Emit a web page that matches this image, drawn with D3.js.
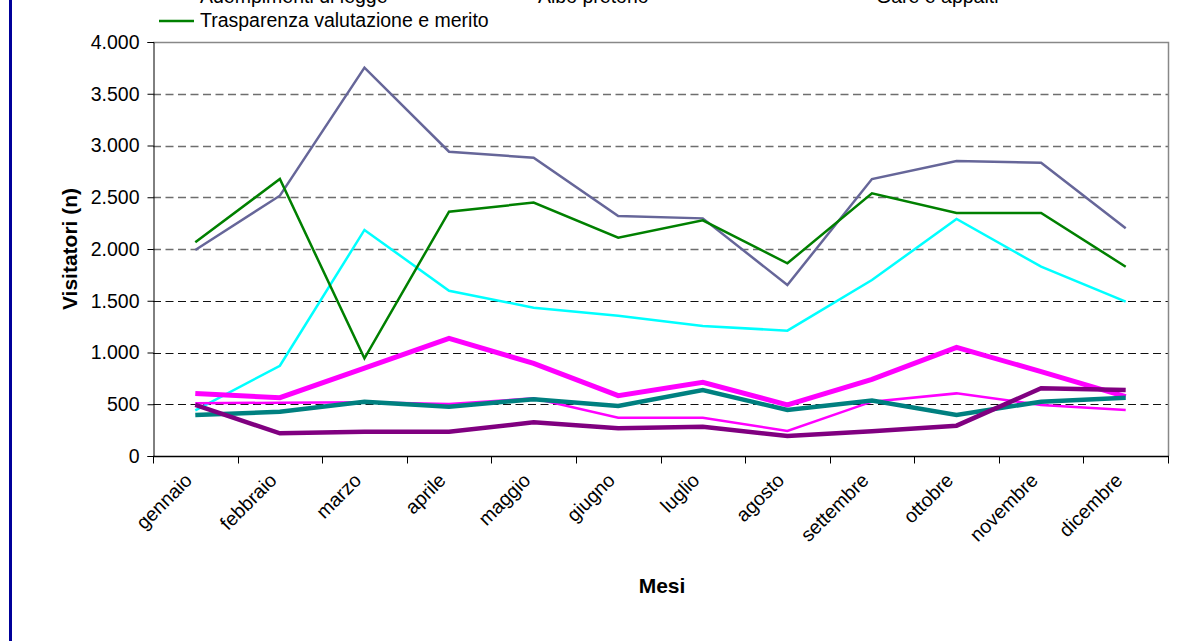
<!DOCTYPE html>
<html>
<head>
<meta charset="utf-8">
<script src="https://cdn.jsdelivr.net/npm/d3@7"></script>
<style>
  html, body { margin: 0; padding: 0; background: #fff; }
  svg { display: block; }
  text { font-family: "Liberation Sans", Arial, sans-serif; fill: #000; }
</style>
</head>
<body>
<svg id="chart" width="1199" height="641"></svg>
<script>
// Monthly visitors per section of the site
const months = ["gennaio", "febbraio", "marzo", "aprile", "maggio", "giugno",
                "luglio", "agosto", "settembre", "ottobre", "novembre", "dicembre"];
const yTicks = [0, 500, 1000, 1500, 2000, 2500, 3000, 3500, 4000];

const seriesNames = ["Home page", "Notizie", "Modulistica",
                     "Adempimenti di legge", "Albo pretorio", "Gare e appalti",
                     "Trasparenza valutazione e merito"];

const homePage     = [1990, 2515, 3752, 2940, 2882, 2319, 2296, 1652, 2676, 2850, 2834, 2200];
const notizie      = [440, 872, 2184, 1597, 1433, 1356, 1256, 1211, 1700, 2290, 1829, 1491];
const modulistica  = [605, 563, 850, 1137, 895, 583, 712, 493, 741, 1050, 815, 573];
const adempimenti  = [509, 515, 520, 502, 557, 370, 370, 242, 525, 605, 493, 444];
const alboPretorio = [396, 428, 525, 477, 548, 483, 638, 444, 535, 396, 525, 563];
const gareAppalti  = [493, 219, 235, 235, 325, 267, 283, 193, 240, 293, 654, 638];
const trasparenza  = [2065, 2676, 944, 2361, 2448, 2110, 2277, 1862, 2538, 2348, 2348, 1829];

const seriesValues = [homePage, notizie, modulistica, adempimenti, alboPretorio, gareAppalti, trasparenza];
const seriesColors = ["#666699", "#00FFFF", "#FF00FF", "#FF00FF", "#008080", "#800080", "#008000"];
const seriesWidths = [2.5, 2.5, 5, 2.5, 4.5, 4.5, 2.5];

const svg = d3.select("#chart");
const plot = { left: 153, right: 1168, top: 42, bottom: 456 };

const x = d3.scaleBand().domain(months).range([plot.left, plot.right]).padding(0);
const y = d3.scaleLinear().domain([0, 4000]).range([plot.bottom, plot.top]);
const fmt = v => d3.format(",")(v).replace(/,/g, ".");

// outer frame edge on the left
svg.append("line")
  .attr("x1", 10.5).attr("x2", 10.5).attr("y1", 0).attr("y2", 641)
  .attr("stroke", "#000099").attr("stroke-width", 3);

// dashed gridlines
svg.append("g")
  .selectAll("line")
  .data(yTicks.filter(t => t > 0 && t < 4000))
  .join("line")
  .attr("x1", plot.left).attr("x2", plot.right)
  .attr("y1", d => Math.round(y(d)) + 0.5).attr("y2", d => Math.round(y(d)) + 0.5)
  .attr("stroke", d => d >= 2000 ? "#6e6e6e" : "#111")
  .attr("stroke-width", d => d >= 2000 ? 1.6 : 1)
  .attr("stroke-dasharray", "8,4.5");

// top and right border of the plot area
svg.append("path")
  .attr("d", `M${plot.left},${plot.top + 0.5}H${plot.right + 0.5}V${plot.bottom}`)
  .attr("fill", "none").attr("stroke", "#888").attr("stroke-width", 1.5);

// y axis
const yAxis = svg.append("g")
  .attr("transform", `translate(${plot.left + 0.5},0)`)
  .call(d3.axisLeft(y).tickValues(yTicks).tickFormat(fmt).tickSize(6).tickPadding(8));
yAxis.select(".domain").attr("stroke", "#000");
yAxis.selectAll(".tick line").attr("stroke", "#000");
yAxis.selectAll("text").attr("font-size", 19.5).attr("fill", "#000")
  .style("font-family", "'Liberation Sans', Arial, sans-serif");

// x axis: ticks on category boundaries
const xAxisG = svg.append("g").attr("transform", `translate(0,${plot.bottom + 0.5})`);
xAxisG.append("line")
  .attr("x1", plot.left).attr("x2", plot.right + 1)
  .attr("stroke", "#000").attr("stroke-width", 1.5);
const boundaries = months.map(m => x(m)).concat([x.range()[1]]);
xAxisG.selectAll("line.tick")
  .data(boundaries)
  .join("line")
  .attr("class", "tick")
  .attr("x1", d => Math.round(d) + 0.5).attr("x2", d => Math.round(d) + 0.5)
  .attr("y1", 0).attr("y2", 7)
  .attr("stroke", "#000");
xAxisG.selectAll("text")
  .data(months)
  .join("text")
  .attr("transform", d => `translate(${x(d) + x.bandwidth() / 2 - 2},${25}) rotate(-45)`)
  .attr("text-anchor", "end")
  .attr("font-size", 19.5)
  .text(d => d);

// axis titles
svg.append("text")
  .attr("transform", `translate(77,${(plot.top + plot.bottom) / 2}) rotate(-90)`)
  .attr("text-anchor", "middle")
  .attr("font-size", 21).attr("font-weight", "bold")
  .text("Visitatori (n)");
svg.append("text")
  .attr("x", 662).attr("y", 593)
  .attr("text-anchor", "middle")
  .attr("font-size", 21).attr("font-weight", "bold")
  .text("Mesi");

// series lines
const line = d3.line()
  .x((d, i) => x(months[i]) + x.bandwidth() / 2)
  .y(d => y(d));
svg.append("g")
  .selectAll("path")
  .data(seriesValues)
  .join("path")
  .attr("d", d => line(d))
  .attr("fill", "none")
  .attr("stroke", (d, i) => seriesColors[i])
  .attr("stroke-width", (d, i) => seriesWidths[i])
  .attr("stroke-linejoin", "miter");

// legend, three entries per row
const legend = svg.append("g");
const colX = [159, 497, 835];
const rowBase = [-20, 3, 27];
const items = legend.selectAll("g")
  .data(seriesNames)
  .join("g")
  .attr("transform", (d, i) => `translate(${colX[i % 3]},${rowBase[Math.floor(i / 3)]})`);
items.append("line")
  .attr("x1", 0).attr("x2", 35).attr("y1", -6).attr("y2", -6)
  .attr("stroke", (d, i) => seriesColors[i])
  .attr("stroke-width", (d, i) => i === 6 ? 2.5 : seriesWidths[i]);
items.append("text")
  .attr("x", 41).attr("y", 0)
  .attr("font-size", 19.5)
  .text(d => d);
</script>
</body>
</html>
